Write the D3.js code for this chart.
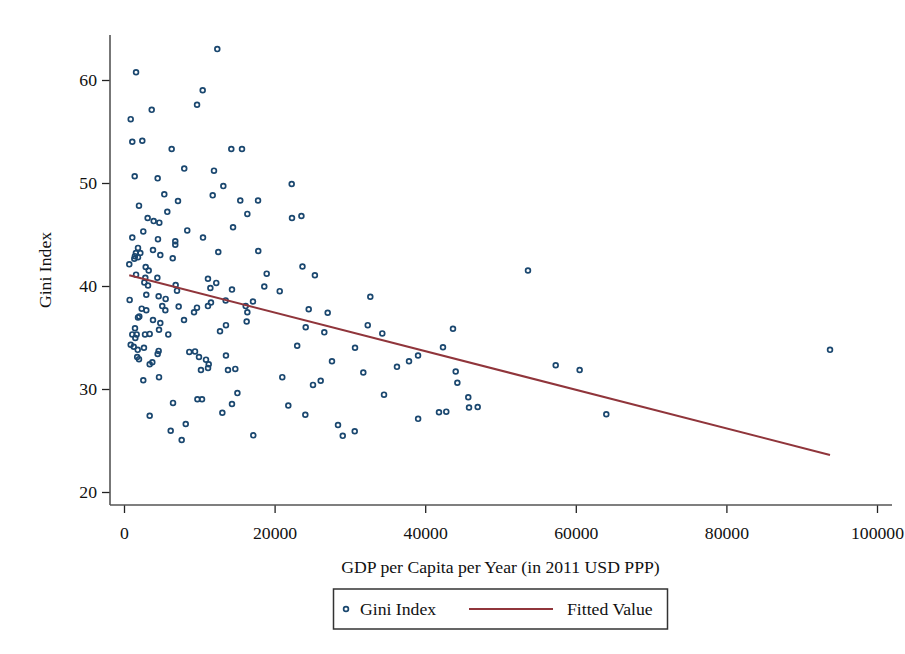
<!DOCTYPE html>
<html>
<head>
<meta charset="utf-8">
<script src="https://cdn.jsdelivr.net/npm/d3@7"></script>
<style>
  body { margin: 0; background: #fff; }
  svg { display: block; font-family: "Liberation Serif", "DejaVu Serif", serif; }
</style>
</head>
<body>
<svg id="chart" width="905" height="654"></svg>
<script>
const MARKER = "#1a476f";
const FIT = "#90353b";
const FONT_SIZE = 17.7;

// GDP per capita (2011 USD PPP) and Gini index
var gdp = [
  12390, 1600, 10450, 9700, 3680, 890, 1100, 2430, 6330, 14250,
  15670, 1420, 4470, 8000, 11950, 13190, 22270, 5350, 11780, 7170,
  15440, 17800, 1990, 5750, 3140, 3940, 4690, 16380, 22310, 23560,
  14480, 2560, 8400, 1100, 4510, 10490, 6810, 6810, 1860, 1580,
  2170, 1370, 1860, 3850, 4820, 6470, 12520, 17830, 700, 2880,
  3280, 1600, 2830, 4430, 18950, 11150, 12250, 2700, 3190, 6860,
  11470, 7040, 14340, 18630, 20680, 2960, 4600, 5530, 750, 13500,
  5080, 11550, 11150, 17130, 2350, 2960, 5490, 7260, 9690, 9300,
  16160, 16380, 2030, 1860, 3850, 4820, 7970, 16290, 13540, 12750,
  1460, 4650, 1100, 1680, 2790, 3410, 5880, 1500, 890, 1290,
  1820, 2650, 4600, 4470, 8670, 9430, 1750, 1990, 9960, 10890,
  11250, 11160, 13540, 3760, 3410, 10220, 13810, 14780, 23000, 21020,
  2560, 4650, 15060, 6510, 9750, 10360, 14340, 21820, 13060, 3410,
  8200, 6200, 17170, 7660, 23700, 25350, 32710, 24530, 27050, 24130,
  26600, 32370, 34300, 30680, 43690, 42360, 27620, 31780, 36250, 37850,
  39050, 44050, 44270, 25100, 26120, 34530, 45720, 45820, 46970, 24080,
  39060, 41830, 42800, 28420, 29050, 30640, 53650, 57330, 60510, 64050,
  93760, 1450
];
var gini = [
  63.0, 60.75, 59.0, 57.6, 57.1, 56.2, 54.0, 54.1, 53.3, 53.3,
  53.3, 50.65, 50.45, 51.4, 51.2, 49.7, 49.9, 48.9, 48.8, 48.25,
  48.3, 48.3, 47.8, 47.2, 46.6, 46.3, 46.15, 47.0, 46.6, 46.8,
  45.7, 45.3, 45.4, 44.7, 44.55, 44.7, 44.35, 44.0, 43.7, 43.2,
  43.2, 42.65, 42.8, 43.5, 43.0, 42.7, 43.3, 43.4, 42.1, 41.85,
  41.5, 41.1, 40.8, 40.8, 41.2, 40.7, 40.3, 40.35, 40.05, 40.1,
  39.8, 39.55, 39.65, 39.95, 39.5, 39.15, 39.0, 38.75, 38.65, 38.6,
  38.05, 38.4, 38.05, 38.5, 37.8, 37.65, 37.65, 38.0, 37.9, 37.45,
  38.05, 37.45, 37.05, 36.95, 36.7, 36.4, 36.7, 36.55, 36.2, 35.6,
  35.9, 35.75, 35.3, 35.3, 35.3, 35.35, 35.3, 34.95, 34.3, 34.1,
  33.8, 34.0, 33.7, 33.4, 33.6, 33.65, 33.1, 32.9, 33.1, 32.85,
  32.4, 32.05, 33.25, 32.6, 32.4, 31.85, 31.85, 31.95, 34.2, 31.15,
  30.85, 31.15, 29.6, 28.65, 29.0, 29.0, 28.55, 28.4, 27.7, 27.4,
  26.6, 25.95, 25.5, 25.05, 41.9, 41.05, 38.95, 37.75, 37.4, 36.0,
  35.5, 36.2, 35.4, 34.0, 35.85, 34.05, 32.7, 31.6, 32.15, 32.7,
  33.25, 31.7, 30.6, 30.4, 30.8, 29.45, 29.2, 28.2, 28.25, 27.5,
  27.1, 27.75, 27.8, 26.5, 25.45, 25.9, 41.5, 32.3, 31.85, 27.55,
  33.8, 42.9
];

// fitted line
var fitIntercept = 41.17;
var fitSlope = -0.0001874;

var xTicks = [0, 20000, 40000, 60000, 80000, 100000];
var yTicks = [20, 30, 40, 50, 60];
var legendLabels = ["Gini Index", "Fitted Value"];

var svg = d3.select("#chart");

var x = d3.scaleLinear().domain([0, 100000]).range([124, 877]);
var y = d3.scaleLinear().domain([20, 60]).range([492, 80]);

var plotLeft = 110, plotRight = 892, plotTop = 35, plotBottom = 505;

svg.append("rect")
  .attr("width", 905)
  .attr("height", 654)
  .attr("fill", "#fff");

// axes
var xAxis = svg.append("g")
  .attr("transform", "translate(0," + plotBottom + ")")
  .call(d3.axisBottom(x).tickValues(xTicks).tickSize(8).tickSizeOuter(0).tickPadding(11).tickFormat(d3.format("d")));

var yAxis = svg.append("g")
  .attr("transform", "translate(" + plotLeft + ",0)")
  .call(d3.axisLeft(y).tickValues(yTicks).tickSize(8).tickSizeOuter(0).tickPadding(5));

[xAxis, yAxis].forEach(function(a) {
  a.select(".domain").remove();
  a.selectAll("line").attr("stroke", "#222").attr("stroke-width", 1.3);
  a.selectAll("text")
    .attr("font-family", "Liberation Serif, serif")
    .attr("font-size", FONT_SIZE)
    .attr("fill", "#111");
});
xAxis.selectAll("text").attr("dy", "0.85em");

svg.append("line")
  .attr("x1", plotLeft).attr("x2", plotRight)
  .attr("y1", plotBottom).attr("y2", plotBottom)
  .attr("stroke", "#555").attr("stroke-width", 1.6);

svg.append("line")
  .attr("x1", plotLeft).attr("x2", plotLeft)
  .attr("y1", plotTop).attr("y2", plotBottom)
  .attr("stroke", "#555").attr("stroke-width", 1.6);

// axis titles
svg.append("text")
  .attr("x", 500.5)
  .attr("y", 573)
  .attr("text-anchor", "middle")
  .attr("font-size", FONT_SIZE)
  .attr("fill", "#111")
  .text("GDP per Capita per Year (in 2011 USD PPP)");

svg.append("text")
  .attr("transform", "translate(51," + (plotTop + plotBottom) / 2 + ") rotate(-90)")
  .attr("text-anchor", "middle")
  .attr("font-size", FONT_SIZE)
  .attr("fill", "#111")
  .text("Gini Index");

// scatter
var points = gdp.map(function(d, i) {
  return { gdp: d, gini: gini[i] };
});

svg.append("g")
  .selectAll("circle")
  .data(points)
  .enter()
  .append("circle")
  .attr("cx", function(d) { return x(d.gdp); })
  .attr("cy", function(d) { return y(d.gini); })
  .attr("r", 2.4)
  .attr("fill", "none")
  .attr("stroke", MARKER)
  .attr("stroke-width", 1.7);

// fitted values over the range of the data
var xMin = d3.min(gdp), xMax = d3.max(gdp);
svg.append("line")
  .attr("x1", x(xMin))
  .attr("y1", y(fitIntercept + fitSlope * xMin))
  .attr("x2", x(xMax))
  .attr("y2", y(fitIntercept + fitSlope * xMax))
  .attr("stroke", FIT)
  .attr("stroke-width", 2);

// legend
var legend = svg.append("g");

legend.append("rect")
  .attr("x", 333.5)
  .attr("y", 589)
  .attr("width", 334)
  .attr("height", 40)
  .attr("fill", "#fff")
  .attr("stroke", "#333")
  .attr("stroke-width", 1.5);

legend.append("circle")
  .attr("cx", 346)
  .attr("cy", 609)
  .attr("r", 2.4)
  .attr("fill", "none")
  .attr("stroke", MARKER)
  .attr("stroke-width", 1.7);

legend.append("line")
  .attr("x1", 469).attr("x2", 553)
  .attr("y1", 609).attr("y2", 609)
  .attr("stroke", FIT)
  .attr("stroke-width", 2);

legend.selectAll("text")
  .data(legendLabels)
  .enter()
  .append("text")
  .attr("x", function(d, i) { return i === 0 ? 360 : 567; })
  .attr("y", 615)
  .attr("font-size", FONT_SIZE)
  .attr("fill", "#111")
  .text(function(d) { return d; });
</script>
</body>
</html>
